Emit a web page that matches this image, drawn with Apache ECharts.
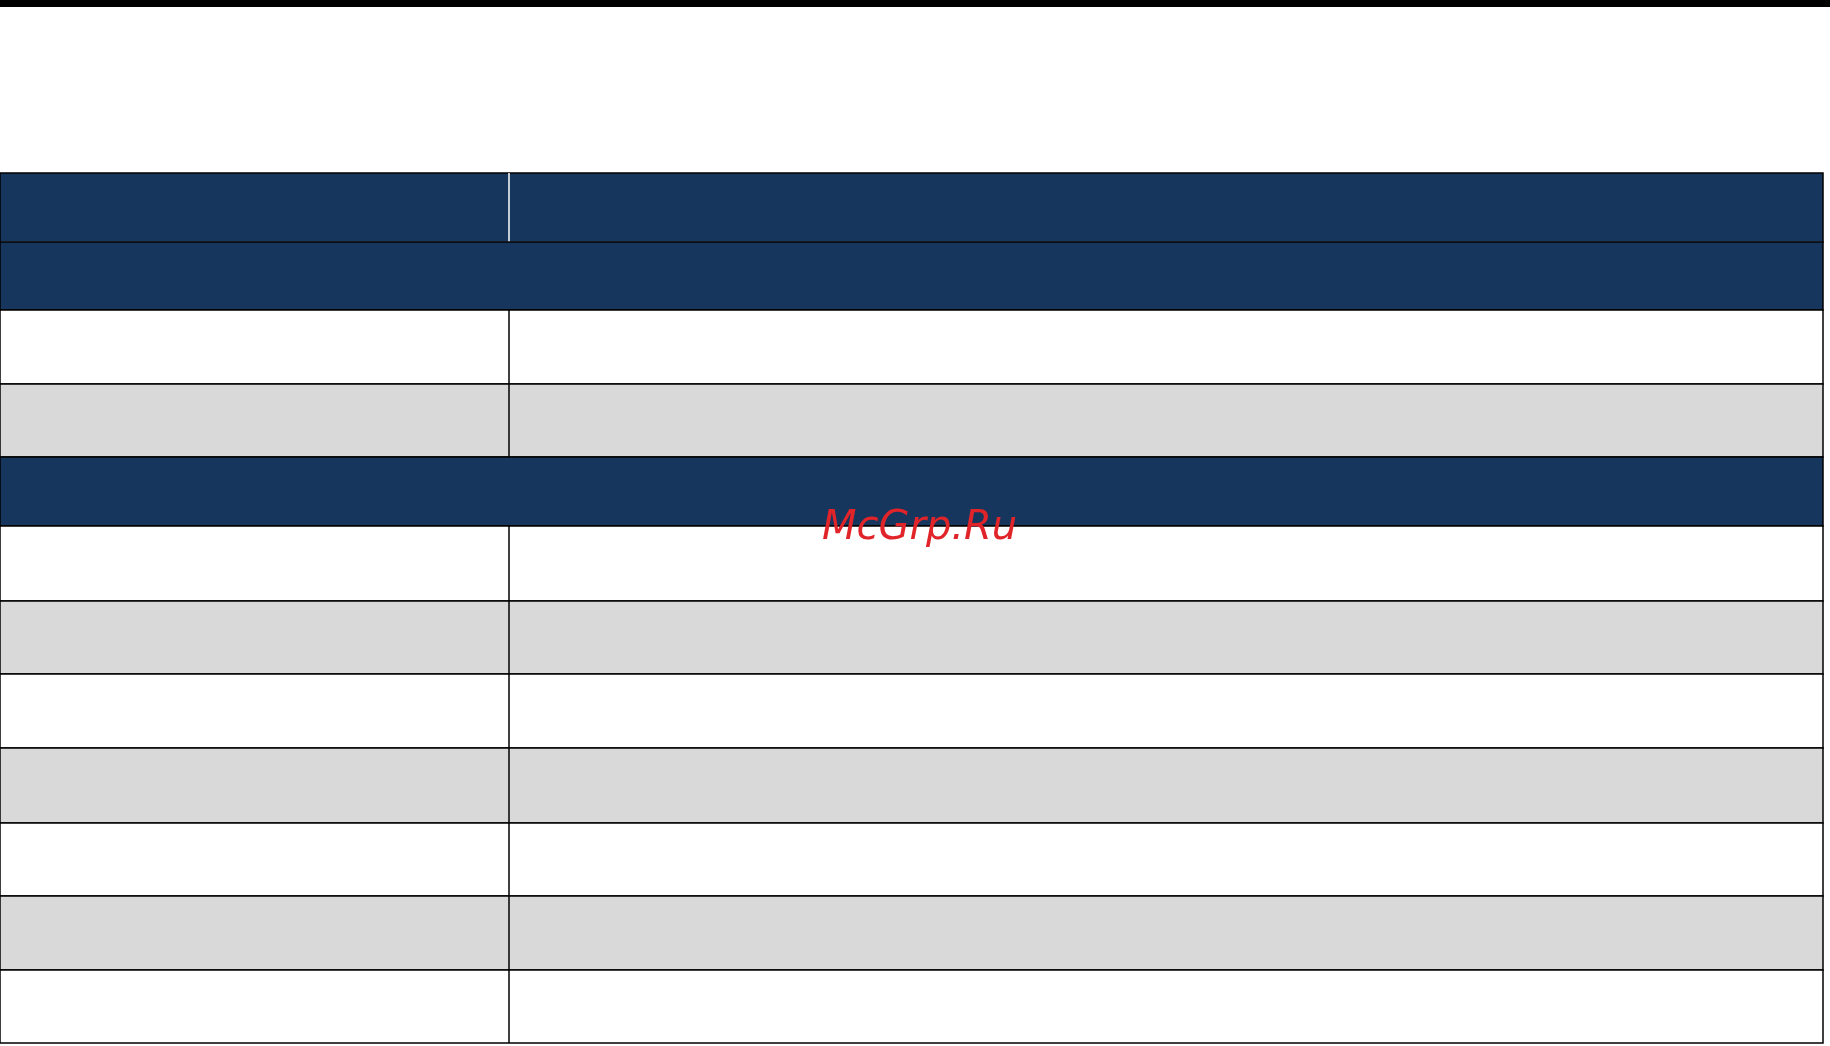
<!DOCTYPE html>
<html>
<head>
<meta charset="UTF-8">
<title>table</title>
<script src="https://cdn.jsdelivr.net/npm/echarts@6/dist/echarts.min.js"></script>
<style>
    body, html { margin: 0; padding: 0; height: 100%; background: #fff; }
    #main { width: 1830px; height: 1046px; }
</style>
</head>
<body>
<div id="main"></div>
<script>
    // row boundaries (page pixels) and row kinds
    var rowEdges = [173, 242, 310, 384, 457, 526, 601, 674, 748, 823, 896, 970, 1043];
    var rowKinds = ['head', 'section', 'white', 'gray', 'section', 'white', 'gray', 'white', 'gray', 'white', 'gray', 'white'];
    var splitX = 509;
    var tableRight = 1823;

    var colors = {head: '#17365d', section: '#17365d', white: '#ffffff', gray: '#d9d9d9'};

    var rows = rowKinds.map(function (k, i) { return [rowEdges[i], rowEdges[i + 1], i]; });

    var chart = echarts.init(document.getElementById('main'), null, {renderer: 'canvas'});
    chart.setOption({
        animation: false,
        grid: {left: 0, right: 0, top: 0, bottom: 0},
        xAxis: {type: 'value', min: 0, max: 1830, show: false},
        yAxis: {type: 'value', min: 0, max: 1046, inverse: true, show: false},
        graphic: [
            {type: 'rect', shape: {x: 0, y: 0, width: 1830, height: 7}, style: {fill: '#000'}},
            {type: 'text', left: 822, top: 509, style: {text: 'McGrp.Ru', fill: '#e0242a', font: 'italic 40px "DejaVu Sans"'}, z: 100}
        ],
        series: [{
            type: 'custom',
            data: rows,
            renderItem: function (params, api) {
                var y0 = api.value(0), y1 = api.value(1), kind = rowKinds[api.value(2)];
                var p0 = api.coord([0, y0]), p1 = api.coord([tableRight, y1]);
                var children = [{
                    type: 'rect',
                    shape: {x: p0[0], y: p0[1], width: p1[0] - p0[0], height: p1[1] - p0[1]},
                    style: {fill: colors[kind], stroke: '#000', lineWidth: 1.5}
                }];
                if (kind === 'head') {
                    children.push({
                        type: 'line',
                        shape: {x1: p0[0] + 1, y1: p1[1], x2: p1[0] - 1, y2: p1[1]},
                        style: {stroke: '#c8d0dc', lineWidth: 1.2}
                    });
                }
                if (kind !== 'section') {
                    var sx = api.coord([splitX, 0])[0];
                    children.push({
                        type: 'line',
                        shape: {x1: sx, y1: p0[1], x2: sx, y2: p1[1]},
                        style: {stroke: kind === 'head' ? '#ffffff' : '#000', lineWidth: 1.5}
                    });
                }
                return {type: 'group', children: children};
            }
        }]
    });
</script>
</body>
</html>
